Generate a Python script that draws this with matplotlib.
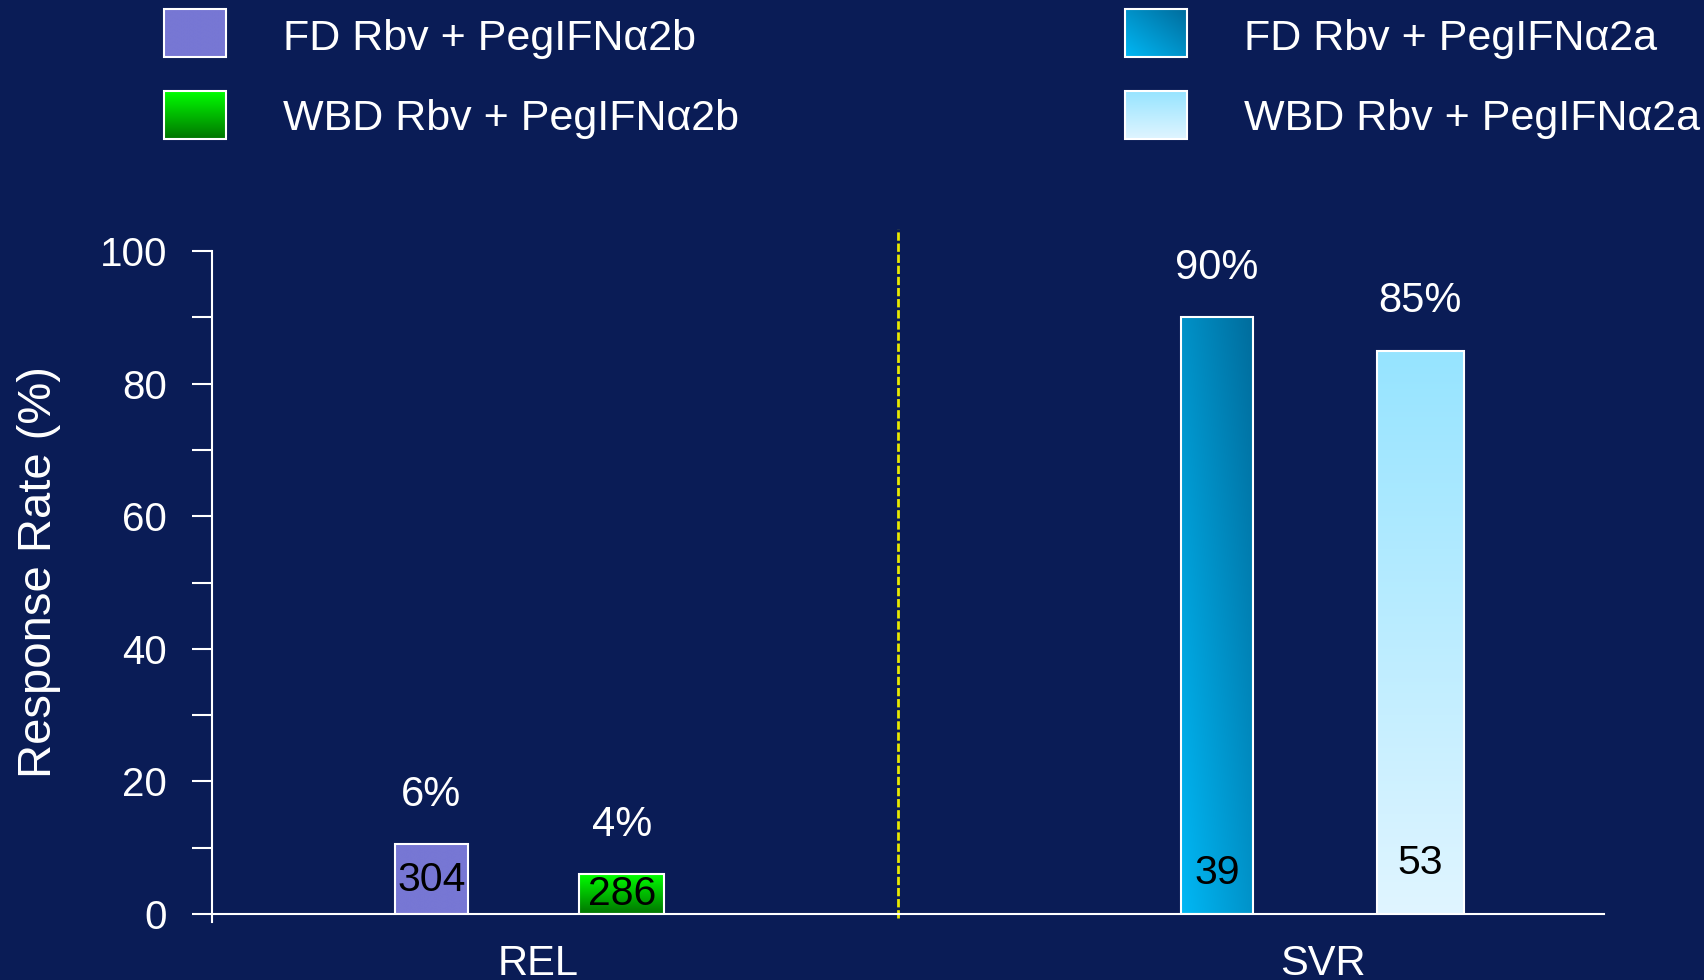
import numpy as np
import matplotlib
matplotlib.use('Agg')
import matplotlib.pyplot as plt
from matplotlib.patches import Rectangle
from matplotlib.colors import to_rgb

plt.rcParams['font.family'] = ['Liberation Sans', 'DejaVu Sans']

groups = ['REL', 'SVR']
series = ['FD Rbv + PegIFNα2b', 'WBD Rbv + PegIFNα2b',
          'FD Rbv + PegIFNα2a', 'WBD Rbv + PegIFNα2a']
bar_heights = [10.5, 6.0, 90, 85]
pct_labels = ['6%', '4%', '90%', '85%']
n_labels = ['304', '286', '39', '53']
n_label_y = [5.1, 3.0, 6.2, 7.7]

bg = '#0A1C56'
# (kind, color start, color end)
fills = [('solid', '#7777D4', '#7777D4'),
         ('vert', '#007400', '#00FF00'),
         ('diag', '#00B8F5', '#006C9C'),
         ('vert', '#E0F5FF', '#96E4FF')]
widths = [0.52, 0.61, 0.52, 0.62]
group_x = [2.26, 7.95]
offsets = [0.684, 0.731]
cat_x = [2.34, 7.98]


def grad_img(kind, c0, c1, n=200):
    c0 = np.array(to_rgb(c0))
    c1 = np.array(to_rgb(c1))
    u, v = np.meshgrid(np.linspace(0, 1, n), np.linspace(0, 1, n))
    if kind == 'diag':
        t = (u + v) / 2
    elif kind == 'vert':
        t = v
    else:
        t = np.zeros_like(u)
    return c0 + (c1 - c0) * t[..., None]


fig = plt.figure(figsize=(17.04, 9.8), dpi=100, facecolor=bg)
ax = fig.add_axes([0.1244, 0.0673, 0.8169, 0.6765])
ax.set_facecolor(bg)

for i, h in enumerate(bar_heights):
    g = i // 2
    x = group_x[g] + (-offsets[g] if i % 2 == 0 else offsets[g])
    kind, c0, c1 = fills[i]
    rect = ax.bar(x, h, widths[i], color='none', edgecolor='white',
                  linewidth=1.5, zorder=3)[0]
    im = ax.imshow(grad_img(kind, c0, c1), origin='lower', aspect='auto',
                   extent=[x - widths[i] / 2, x + widths[i] / 2, 0, h],
                   interpolation='bilinear', zorder=2)
    im.set_clip_path(rect)
    ax.text(x, h + 7.5, pct_labels[i], ha='center', va='center',
            color='white', fontsize=30)
    ax.text(x, n_label_y[i], n_labels[i], ha='center', va='center',
            color='black', fontsize=29.5, zorder=4)

ax.plot([4.93, 4.93], [-0.6, 103.3], color='#E8E800', lw=2,
        ls=(0, (3, 1)), clip_on=False, zorder=1)

ax.set_xlim(0, 10)
ax.set_ylim(0, 100)
ax.set_yticks(range(0, 101, 20))
ax.set_yticks(range(10, 100, 20), minor=True)
ax.set_xticks(cat_x, groups)
ax.tick_params(axis='y', which='both', direction='out', length=14.4,
               width=1.5, colors='white', labelsize=29, pad=18)
ax.tick_params(axis='x', length=0, colors='white', labelsize=30, pad=21.5)
for s in ['top', 'right']:
    ax.spines[s].set_visible(False)
for s in ['left', 'bottom']:
    ax.spines[s].set_color('white')
    ax.spines[s].set_linewidth(1.5)
ax.spines['left'].set_bounds(-1.2, 100)

fig.text(39 / 1704, 1 - 572 / 980, 'Response Rate (%)', rotation=90,
         ha='center', va='center', color='white', fontsize=34)

# legend drawn in pixel space
lax = fig.add_axes([0, 0, 1, 1])
lax.axis('off')
leg_x = [164, 164, 1125, 1125]
leg_y = [9, 91, 9, 91]
for i, name in enumerate(series):
    kind, c0, c1 = fills[i]
    x0, y0 = leg_x[i], leg_y[i]
    lax.imshow(grad_img(kind, c0, c1), origin='lower', aspect='auto',
               extent=[x0, x0 + 62, y0 + 48, y0], interpolation='bilinear')
    lax.add_patch(Rectangle((x0, y0), 62, 48, fill=False,
                            edgecolor='white', lw=1.5))
    lax.text(x0 + 119, y0 + 41 - (2 if i % 2 else 0), name, va='baseline',
             ha='left', color='white', fontsize=31)
lax.set_xlim(0, 1704)
lax.set_ylim(980, 0)

fig.savefig('out.png', dpi=100, facecolor=bg)
